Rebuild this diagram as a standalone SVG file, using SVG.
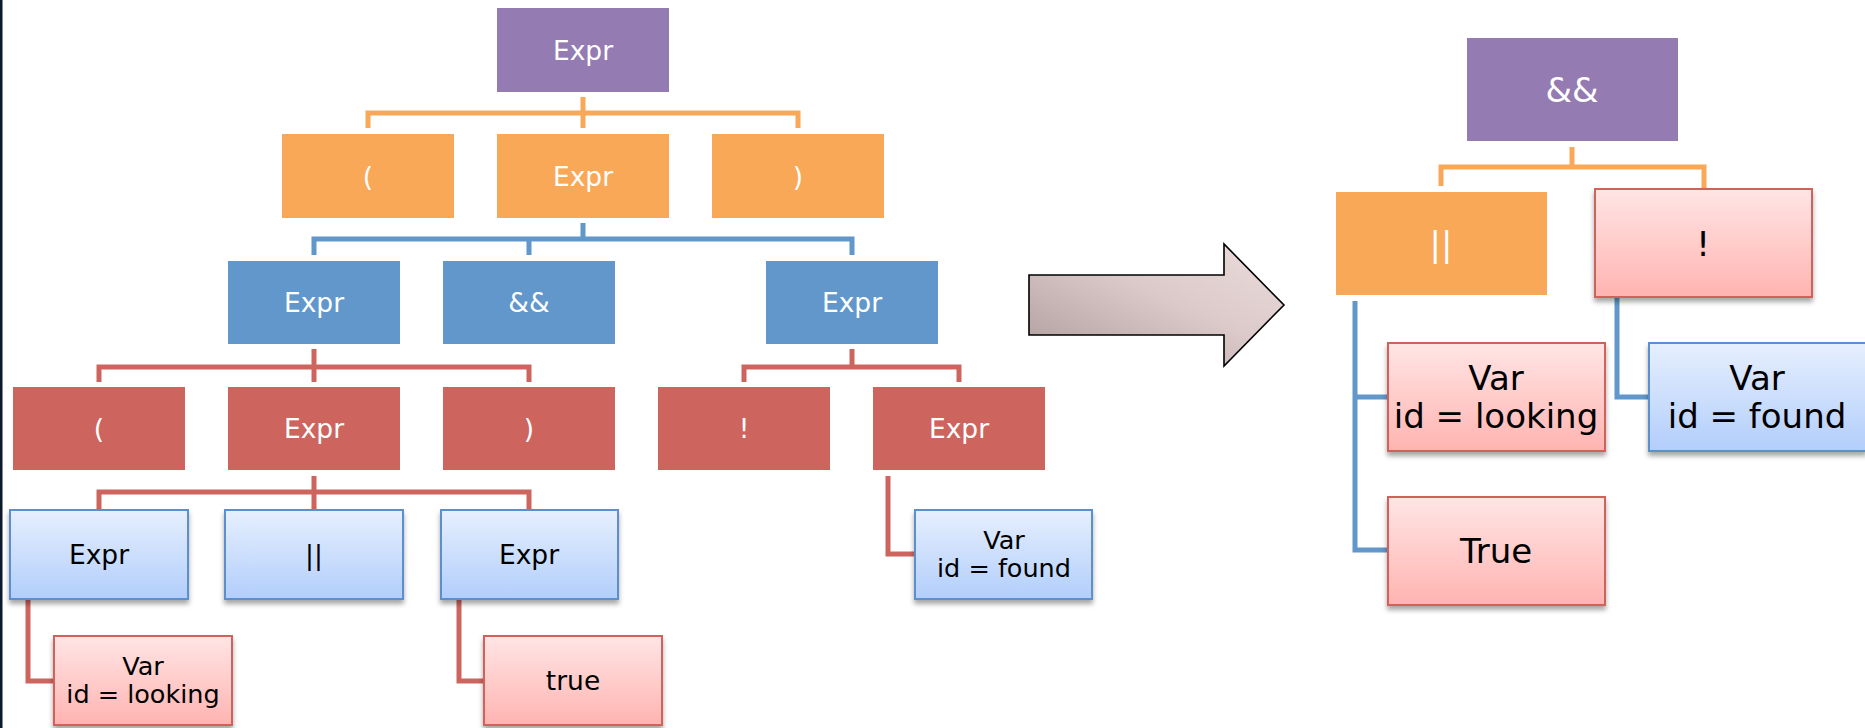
<svg xmlns="http://www.w3.org/2000/svg" width="1865" height="728" viewBox="0 0 1865 728">
<defs>
<linearGradient id="gBlue" x1="0" y1="0" x2="0" y2="1"><stop offset="0" stop-color="#e6effe"/><stop offset="1" stop-color="#b2cefb"/></linearGradient>
<linearGradient id="gPink" x1="0" y1="0" x2="0" y2="1"><stop offset="0" stop-color="#ffe5e5"/><stop offset="1" stop-color="#ffb4b1"/></linearGradient>
<linearGradient id="gArrow" x1="0" y1="1" x2="1" y2="0"><stop offset="0" stop-color="#ad9b9b"/><stop offset="0.55" stop-color="#dccaca"/><stop offset="1" stop-color="#ecdcdc"/></linearGradient>
<filter id="sh" x="-10%" y="-10%" width="120%" height="130%"><feDropShadow dx="0" dy="4" stdDeviation="2.5" flood-color="#000" flood-opacity="0.35"/></filter>
</defs>
<style>
.purple{fill:#947bb1}
.orange{fill:#f9a857}
.blue{fill:#6197ca}
.red{fill:#cd655e}
.lb{fill:url(#gBlue);stroke:#5b8fcf;stroke-width:2;filter:url(#sh)}
.pk{fill:url(#gPink);stroke:#d0625c;stroke-width:2;filter:url(#sh)}
text{font-family:"DejaVu Sans","Noto Sans",sans-serif;text-anchor:middle}
.w{fill:#fff;font-size:26.5px}
.k{fill:#000;font-size:26.5px}
.k2{fill:#000;font-size:25.5px}
.wl{fill:#fff;font-size:34px}
.kl{fill:#000;font-size:34px}
.c{fill:none;stroke-width:5;stroke-linejoin:miter;stroke-linecap:butt}
.co{stroke:#f9a857}
.cb{stroke:#6197ca}
.cr{stroke:#cd655e}
</style>
<rect x="0" y="0" width="1865" height="728" fill="#fff"/>
<rect x="0" y="0" width="2.5" height="728" fill="#0c1a2e"/>
<g id="connectors">
<path class="c co" d="M583,97V128M368,128V113H798V128"/>
<path class="c cb" d="M583,223V239M314,255V239H852V255M529,239V255"/>
<path class="c cr" d="M314,349V382M99,382V367H529V382"/>
<path class="c cr" d="M852,349V367M744,382V367H959V382"/>
<path class="c cr" d="M314,476V510M99,510V492H529V510"/>
<path class="c cr" d="M28,599V681H54"/>
<path class="c cr" d="M459,599V681H484"/>
<path class="c cr" d="M888,476V554H915"/>
<path class="c co" d="M1572,147V167M1441,186V167H1704V189"/>
<path class="c cb" d="M1355,301V550H1388M1355,397H1388"/>
<path class="c cb" d="M1617,297V397H1649"/>
</g>
<g id="n-root"><rect class="purple" x="497" y="8" width="172" height="84"/><text class="w" x="583" y="59.5">Expr</text></g>
<g id="n-lp1"><rect class="orange" x="282" y="134" width="172" height="84"/><text class="w" x="368" y="185.5">(</text></g>
<g id="n-expr1"><rect class="orange" x="497" y="134" width="172" height="84"/><text class="w" x="583" y="185.5">Expr</text></g>
<g id="n-rp1"><rect class="orange" x="712" y="134" width="172" height="84"/><text class="w" x="798" y="185.5">)</text></g>
<g id="n-expr2"><rect class="blue" x="228" y="261" width="172" height="83"/><text class="w" x="314" y="312">Expr</text></g>
<g id="n-and"><rect class="blue" x="443" y="261" width="172" height="83"/><text class="w" x="529" y="312">&amp;&amp;</text></g>
<g id="n-expr3"><rect class="blue" x="766" y="261" width="172" height="83"/><text class="w" x="852" y="312">Expr</text></g>
<g id="n-lp2"><rect class="red" x="13" y="387" width="172" height="83"/><text class="w" x="99" y="438">(</text></g>
<g id="n-expr4"><rect class="red" x="228" y="387" width="172" height="83"/><text class="w" x="314" y="438">Expr</text></g>
<g id="n-rp2"><rect class="red" x="443" y="387" width="172" height="83"/><text class="w" x="529" y="438">)</text></g>
<g id="n-not"><rect class="red" x="658" y="387" width="172" height="83"/><text class="w" x="744" y="438">!</text></g>
<g id="n-expr5"><rect class="red" x="873" y="387" width="172" height="83"/><text class="w" x="959" y="438">Expr</text></g>
<g id="n-expr6"><rect class="lb" x="10" y="510" width="178" height="89"/><text class="k" x="99" y="564">Expr</text></g>
<g id="n-or"><rect class="lb" x="225" y="510" width="178" height="89"/><text class="k" x="314" y="564">||</text></g>
<g id="n-expr7"><rect class="lb" x="441" y="510" width="177" height="89"/><text class="k" x="529" y="564">Expr</text></g>
<g id="n-var1"><rect class="lb" x="915" y="510" width="177" height="89"/><text class="k2" x="1004" y="549">Var</text><text class="k2" x="1004" y="577">id = found</text></g>
<g id="n-var2"><rect class="pk" x="54" y="636" width="178" height="89"/><text class="k2" x="143" y="675">Var</text><text class="k2" x="143" y="703">id = looking</text></g>
<g id="n-true1"><rect class="pk" x="484" y="636" width="178" height="89"/><text class="k" x="573" y="690">true</text></g>
<g id="arrow"><path d="M1029,275H1224V244L1284,305L1224,366V335H1029Z" fill="url(#gArrow)" stroke="#000" stroke-width="1.6"/></g>
<g id="r-and"><rect class="purple" x="1467" y="38" width="211" height="103"/><text class="wl" x="1572" y="102">&amp;&amp;</text></g>
<g id="r-or"><rect class="orange" x="1336" y="192" width="211" height="103"/><text class="wl" x="1441" y="256">||</text></g>
<g id="r-not"><rect class="pk" x="1595" y="189" width="217" height="108"/><text class="kl" x="1703" y="256">!</text></g>
<g id="r-var1"><rect class="pk" x="1388" y="343" width="217" height="108"/><text class="kl" x="1496" y="390">Var</text><text class="kl" x="1496" y="428">id = looking</text></g>
<g id="r-var2"><rect class="lb" x="1649" y="343" width="217" height="108"/><text class="kl" x="1757" y="390">Var</text><text class="kl" x="1757" y="428">id = found</text></g>
<g id="r-true"><rect class="pk" x="1388" y="497" width="217" height="108"/><text class="kl" x="1496" y="563">True</text></g>
</svg>
